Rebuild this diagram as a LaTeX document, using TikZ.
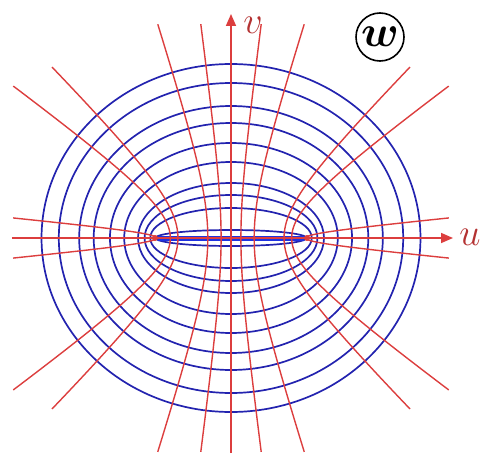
\RequirePackage{fix-cm}
\documentclass[tikz,border=0pt]{standalone}
\usepackage{bm}
\usetikzlibrary{arrows.meta}
\definecolor{ellblue}{RGB}{35,35,175}
\definecolor{segblue}{RGB}{30,50,225}
\definecolor{hypred}{RGB}{220,62,62}
\definecolor{labred}{RGB}{180,50,50}
\begin{document}
\begin{tikzpicture}[x=1pt,y=1pt,
  ell/.style={draw=ellblue,line width=1.7pt},
  hyp/.style={draw=hypred,line width=1.4pt},
  axisline/.style={draw=hypred,line width=1.6pt,-{Triangle[length=12pt,width=10pt]}},
  axlabel/.style={text=labred,font=\fontsize{38}{38}\selectfont,inner sep=0pt}]
\useasboundingbox (-231,-215) rectangle (250,238);
% confocal ellipses (foci at +-75)
\foreach \b in {8,30,43,55,76,95,115,132,155,174}{
  \pgfmathsetmacro\a{10*sqrt((\b/10)*(\b/10)+56.25)}
  \draw[ell] (0,0) ellipse [x radius=\a, y radius=\b];
}
% focal segment
\coordinate (F1) at (-76,0);
\coordinate (F2) at (76,0);
\draw[draw=segblue,line width=5pt] (-73,0) -- (73,0);
% confocal hyperbolas
\foreach \th/\T in {82.4/1.779, 72/1.818, 45/1.887, 36/1.951, 5.6/1.734}{
  \draw[hyp] plot[domain=-\T:\T,samples=60,smooth,variable=\t]
    ({75*cos(\th)*cosh(\t)},{75*sin(\th)*sinh(\t)});
  \draw[hyp] plot[domain=-\T:\T,samples=60,smooth,variable=\t]
    ({-75*cos(\th)*cosh(\t)},{75*sin(\th)*sinh(\t)});
}
\fill[hypred] (F1) circle (3);
\fill[hypred] (F2) circle (3);
% axes
\coordinate (ul) at (-219,0);
\coordinate (ur) at (222,0);
\coordinate (vb) at (0,-215);
\coordinate (vt) at (0,224);
\draw[axisline] (ul) -- (ur);
\draw[axisline] (vb) -- (vt);
\node[axlabel] (ulab) at (239,1) {$u$};
\node[axlabel] (vlab) at (22,213) {$v$};
% w label
\node[circle,draw=black,line width=1.6pt,minimum size=48pt,inner sep=0pt,
  font=\fontsize{44}{44}\selectfont] (wlab) at (149,201) {$\bm{w}$};
\end{tikzpicture}
\end{document}
